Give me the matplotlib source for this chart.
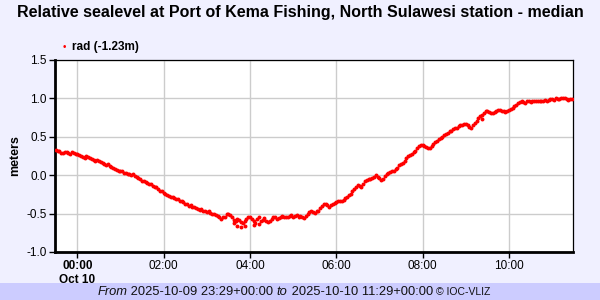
import matplotlib
matplotlib.use('agg')
import matplotlib.pyplot as plt
from matplotlib.patches import Rectangle
import pandas as pd

plt.rcParams['font.family'] = ['Liberation Sans', 'DejaVu Sans']

# relative sea level (m), read every 2.5 minutes from 2025-10-09 23:30 UTC
sea_level = [
    0.33, 0.32, 0.31, 0.29, 0.29, 0.30, 0.30, 0.29, 0.28, 0.30,
    0.29, 0.28, 0.27, 0.26, 0.25, 0.24, 0.23, 0.25, 0.24, 0.22,
    0.21, 0.20, 0.19, 0.20, 0.18, 0.17, 0.16, 0.15, 0.13, 0.14,
    0.12, 0.11, 0.10, 0.08, 0.07, 0.06, 0.05, 0.05, 0.03, 0.03,
    0.02, 0.01, 0.00, 0.01, -0.01, -0.02, -0.03, -0.05, -0.07, -0.08,
    -0.09, -0.10, -0.11, -0.12, -0.14, -0.15, -0.16, -0.18, -0.20, -0.21,
    -0.23, -0.24, -0.26, -0.27, -0.29, -0.28, -0.30, -0.31, -0.31, -0.33,
    -0.34, -0.35, -0.37, -0.38, -0.40, -0.39, -0.42, -0.41, -0.43, -0.44,
    -0.45, -0.44, -0.46, -0.47, -0.48, -0.47, -0.49, -0.50, -0.51, -0.52,
    -0.53, -0.55, -0.57, -0.55, -0.54, -0.51, -0.50, -0.52, -0.55, -0.58,
    -0.60, -0.57, -0.58, -0.61, -0.62, -0.59, -0.57, -0.54, -0.55, -0.57,
    -0.59, -0.62, -0.57, -0.55, -0.60, -0.58, -0.56, -0.59, -0.61, -0.59,
    -0.57, -0.55, -0.54, -0.57, -0.56, -0.54, -0.53, -0.55, -0.55, -0.54,
    -0.53, -0.52, -0.54, -0.53, -0.52, -0.54, -0.53, -0.55, -0.56, -0.53,
    -0.51, -0.48, -0.46, -0.48, -0.49, -0.47, -0.47, -0.43, -0.40, -0.38,
    -0.37, -0.39, -0.41, -0.39, -0.37, -0.36, -0.35, -0.34, -0.33, -0.33,
    -0.32, -0.30, -0.28, -0.26, -0.24, -0.21, -0.18, -0.15, -0.13, -0.14,
    -0.15, -0.11, -0.08, -0.06, -0.05, -0.05, -0.04, -0.02, 0.00, -0.02,
    -0.04, -0.06, -0.05, -0.01, 0.02, 0.03, 0.04, 0.05, 0.06, 0.08,
    0.10, 0.13, 0.15, 0.16, 0.18, 0.22, 0.25, 0.26, 0.28, 0.30,
    0.32, 0.35, 0.38, 0.39, 0.39, 0.38, 0.37, 0.36, 0.35, 0.38,
    0.41, 0.43, 0.45, 0.47, 0.49, 0.50, 0.52, 0.54, 0.55, 0.57,
    0.58, 0.60, 0.61, 0.62, 0.64, 0.65, 0.66, 0.67, 0.67, 0.65,
    0.63, 0.62, 0.65, 0.68, 0.71, 0.74, 0.77, 0.79, 0.81, 0.83,
    0.83, 0.82, 0.81, 0.81, 0.82, 0.84, 0.85, 0.85, 0.84, 0.83,
    0.82, 0.84, 0.85, 0.86, 0.88, 0.90, 0.92, 0.94, 0.95, 0.96,
    0.95, 0.94, 0.96, 0.96, 0.95, 0.96, 0.96, 0.97, 0.96, 0.97,
    0.97, 0.96, 0.98, 0.97, 0.98, 0.99, 0.99, 0.98, 1.00, 0.99,
    0.99, 1.00, 1.00, 1.01, 0.99, 0.98, 0.99, 0.99,
]

# scattered low/high readings
spike_times = ['2025-10-10 03:38', '2025-10-10 03:42', '2025-10-10 03:48',
               '2025-10-10 03:53', '2025-10-10 04:06', '2025-10-10 04:12',
               '2025-10-10 09:22']
spike_values = [-0.62, -0.66, -0.68, -0.66, -0.65, -0.63, 0.73]

tick_times = ['2025-10-10 00:00', '2025-10-10 02:00', '2025-10-10 04:00',
              '2025-10-10 06:00', '2025-10-10 08:00', '2025-10-10 10:00']
tick_labels = ['00:00\nOct 10', '02:00', '04:00', '06:00', '08:00', '10:00']
y_ticks = [-1.0, -0.5, 0.0, 0.5, 1.0, 1.5]

times = pd.date_range('2025-10-09 23:30', periods=len(sea_level), freq='150s')

fig = plt.figure(figsize=(6, 3), dpi=100, facecolor='#f0f0ff')
ax = fig.add_axes([0.0917, 0.16, 0.8633, 0.64])
ax.set_facecolor('white')

ax.scatter(times, sea_level, s=8, c='red', marker='o', linewidths=0, zorder=3)
ax.scatter(pd.to_datetime(spike_times), spike_values, s=8, c='red',
           marker='o', linewidths=0, zorder=3)

ax.set_xlim(pd.Timestamp('2025-10-09 23:29'), pd.Timestamp('2025-10-10 11:29'))
ax.set_ylim(-1.0, 1.5)
ax.set_yticks(y_ticks)
ax.set_yticklabels([f'{t:.1f}' for t in y_ticks])
ax.set_xticks(pd.to_datetime(tick_times))
ax.set_xticklabels(tick_labels)
ax.get_xticklabels()[0].set_fontweight('bold')

ax.grid(True, color='#cccccc', linewidth=1)
ax.set_axisbelow(True)
ax.tick_params(labelsize=8.5, colors='black', length=4, width=1, pad=2)

for side in ['left', 'bottom']:
    ax.spines[side].set_linewidth(2)
    ax.spines[side].set_color('black')
for side in ['top', 'right']:
    ax.spines[side].set_linewidth(0.9)
    ax.spines[side].set_color('black')

ax.set_ylabel('meters', fontsize=9, fontweight='bold', labelpad=4)

fig.text(0.5, 0.957, 'Relative sealevel at Port of Kema Fishing, North Sulawesi station - median',
         ha='center', va='center', fontsize=11.5, fontweight='bold')

# legend
fig.text(0.107, 0.843, '\u2022', color='red', fontsize=7, ha='center', va='center')
fig.text(0.12, 0.843, 'rad (-1.23m)', fontsize=8.5, fontweight='bold', va='center')

# footer band
fig.patches.append(Rectangle((0, 0), 1, 17 / 300, transform=fig.transFigure,
                             facecolor='#ccccff', edgecolor='none', zorder=0))

pieces = [('From', 'italic', 9.3), (' 2025-10-09 23:29+00:00 ', 'normal', 9.3),
          ('to', 'italic', 9.3), (' 2025-10-10 11:29+00:00 ', 'normal', 9.3),
          ('\u00a9 IOC-VLIZ', 'normal', 7.5)]
renderer = fig.canvas.get_renderer()
texts = []
for s, style, size in pieces:
    t = fig.text(0, 0.028, s, fontstyle=style, fontsize=size, va='center', color='#111111')
    texts.append(t)
widths = [t.get_window_extent(renderer).width for t in texts]
x = (588 - sum(widths)) / 2 / 600
for t, w in zip(texts, widths):
    t.set_x(x)
    x += w / 600

fig.savefig('out.png', dpi=100, facecolor=fig.get_facecolor())
